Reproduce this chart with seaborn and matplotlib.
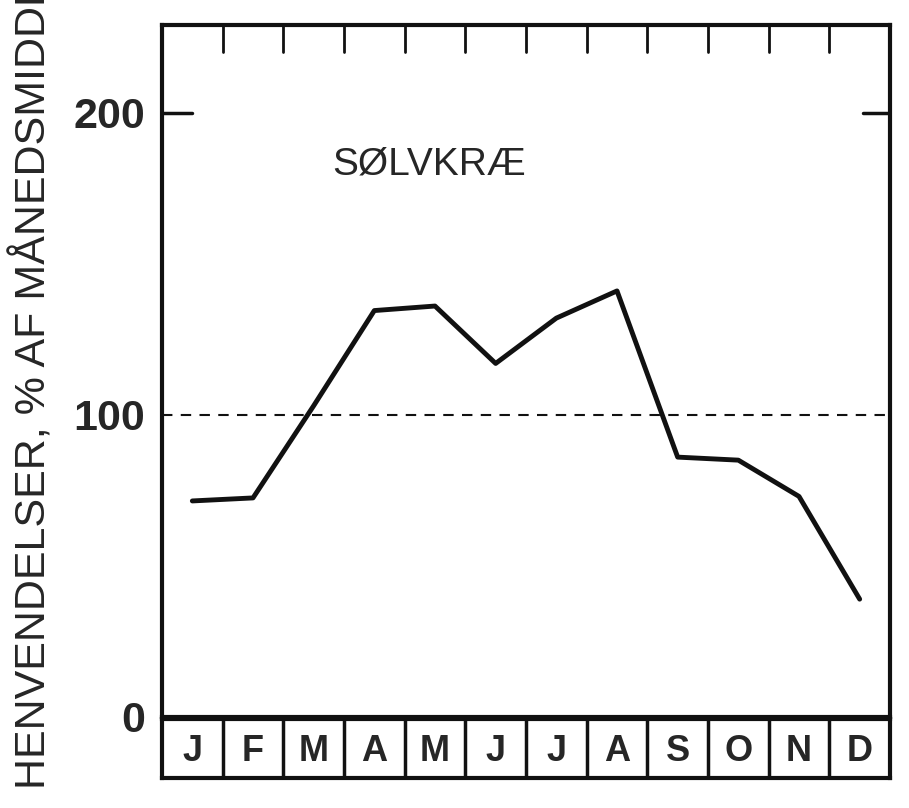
import matplotlib
matplotlib.use("Agg")
import matplotlib.pyplot as plt
import numpy as np
import pandas as pd
import seaborn as sns

months = ["J", "F", "M", "A", "M", "J", "J", "A", "S", "O", "N", "D"]
values = [71.5, 72.5, 103, 134.5, 136, 117, 132, 141, 86, 85, 73, 39]
y_ticks = [0, 100, 200]
species = "SØLVKRÆ"
ylabel = "HENVENDELSER, % AF MÅNEDSMIDDEL"

sns.set_theme(style="white")
plt.rcParams["font.family"] = ["Liberation Sans", "DejaVu Sans"]

df = pd.DataFrame({"pos": np.arange(len(months)), "value": values})

W, H = 909, 808
fig = plt.figure(figsize=(W / 100, H / 100), dpi=100)
ax = fig.add_axes([162 / W, (H - 717) / H, 728 / W, (717 - 25) / H])
mx = fig.add_axes([162 / W, (H - 778) / H, 728 / W, (778 - 719) / H])

sns.lineplot(data=df, x="pos", y="value", ax=ax, color="#111111", linewidth=3.5)
ax.axhline(100, color="#111111", linestyle=(0, (5, 4)), linewidth=1.5)
ax.set_xlim(-0.5, len(months) - 0.5)
ax.set_ylim(0, 229)
for s in ax.spines.values():
    s.set_color("#111111")
    s.set_linewidth(3)

# interior tick marks at month boundaries along top
for b in np.arange(0.5, len(months) - 0.5):
    ax.plot([b, b], [229, 220], color="#111111", lw=2, clip_on=False)
ax.set_xticks([])
ax.set_xlabel("")
ax.set_yticks(y_ticks)
ax.set_yticklabels([str(t) for t in y_ticks], fontsize=31, fontweight="bold")
ax.tick_params(axis="y", direction="in", length=0, pad=12)
ax.plot([-0.5, 0.0], [200, 200], color="#111111", lw=2.5)
ax.plot([11.05, 11.5], [200, 200], color="#111111", lw=2.5)
ax.set_ylabel(ylabel, fontsize=31)
ax.yaxis.set_label_coords(-0.148, 0.5)
ax.text(3.9, 183, species, fontsize=28, ha="center", va="center")

mx.set_xlim(-0.5, len(months) - 0.5)
mx.set_ylim(0, 1)
mx.set_xticks([])
mx.set_yticks([])
for s in mx.spines.values():
    s.set_color("#111111")
    s.set_linewidth(3)
for b in np.arange(0.5, len(months) - 0.5):
    mx.axvline(b, color="#111111", lw=2.5)
for i, m in enumerate(months):
    mx.text(i, 0.45, m, fontsize=26, fontweight="bold", ha="center", va="center")

fig.savefig("out.png", dpi=100)
